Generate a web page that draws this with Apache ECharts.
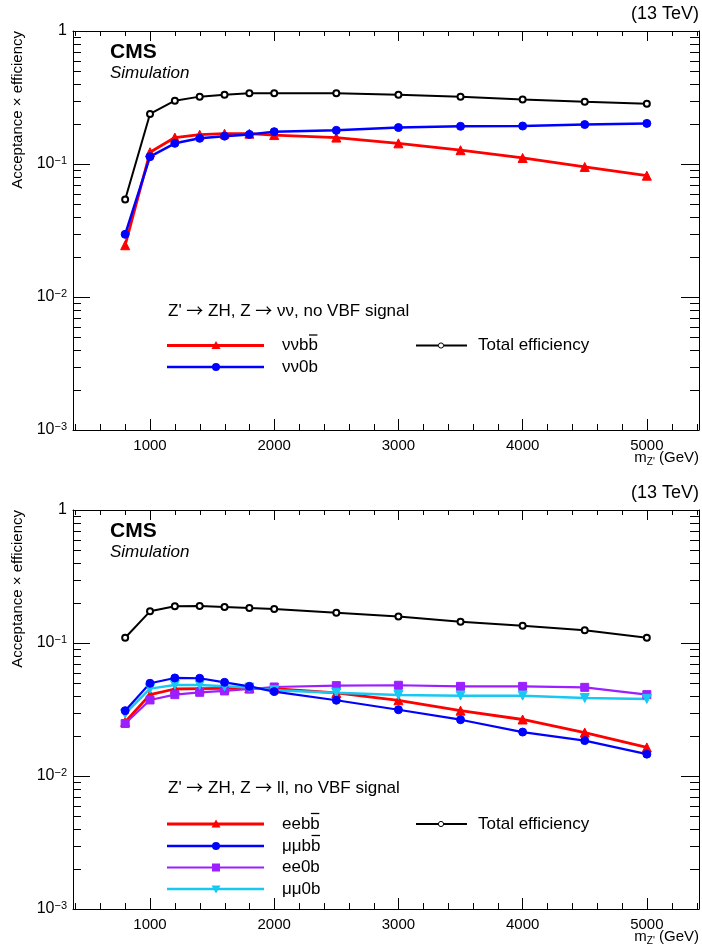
<!DOCTYPE html>
<html><head><meta charset="utf-8">
<script src="https://cdn.jsdelivr.net/npm/echarts@6/dist/echarts.min.js"></script>
<style>html,body{margin:0;padding:0;background:#fff}#c{width:702px;height:947px}</style>
</head><body><div id="c"></div>
<script>
// ---------------- data ----------------
const massPoints = [800, 1000, 1200, 1400, 1600, 1800, 2000, 2500, 3000, 3500, 4000, 4500, 5000];

// top panel: Z -> nu nu
const nunubb  = [0.0245, 0.1225, 0.158, 0.166, 0.169, 0.169, 0.165, 0.158, 0.143, 0.127, 0.111, 0.095, 0.0817];
const nunu0b  = [0.0296, 0.1135, 0.143, 0.156, 0.162, 0.167, 0.175, 0.179, 0.188, 0.192, 0.193, 0.198, 0.202];
const totNuNu = [0.054, 0.238, 0.299, 0.321, 0.332, 0.340, 0.341, 0.340, 0.332, 0.321, 0.306, 0.294, 0.284];

// bottom panel: Z -> l l
const eebb   = [0.0255, 0.0409, 0.0451, 0.0454, 0.0456, 0.0456, 0.0454, 0.0421, 0.0371, 0.0310, 0.0266, 0.0212, 0.0164];
const mumubb = [0.0310, 0.0498, 0.0546, 0.0543, 0.0506, 0.0472, 0.0431, 0.0371, 0.0315, 0.0265, 0.0214, 0.01845, 0.0146];
const ee0b   = [0.0248, 0.0373, 0.0409, 0.0426, 0.0436, 0.0451, 0.0467, 0.0478, 0.0481, 0.0472, 0.0472, 0.0464, 0.0409];
const mumu0b = [0.0294, 0.0454, 0.0484, 0.0484, 0.0472, 0.0462, 0.0441, 0.0423, 0.0407, 0.0402, 0.0402, 0.0386, 0.0380];
const totLL  = [0.1096, 0.173, 0.1886, 0.190, 0.1865, 0.183, 0.180, 0.169, 0.158, 0.1446, 0.135, 0.1245, 0.1096];

// axes
const xRange = [380, 5420];
const yRange = [0.001, 1];
const xMajorLabels = [1000, 2000, 3000, 4000, 5000];
const xMinorTicks = [400, 600, 800, 1200, 1400, 1600, 1800, 2200, 2400, 2600, 2800, 3200, 3400, 3600, 3800, 4200, 4400, 4600, 4800, 5200, 5400];
const yMinorTicks = [0.002,0.003,0.004,0.005,0.006,0.007,0.008,0.009,0.02,0.03,0.04,0.05,0.06,0.07,0.08,0.09,0.2,0.3,0.4,0.5,0.6,0.7,0.8,0.9];

// ---------------- style ----------------
const FONT = '"Liberation Sans", Arial, Helvetica, sans-serif';
const grids = [
  {left: 73, top: 31, width: 626, height: 399},
  {left: 73, top: 510, width: 626, height: 399}
];
const RED = '#ff0000', BLUE = '#0000ff', PURPLE = '#9b1fff', CYAN = '#16c8f2', BLACK = '#000000';

const xAxes = [], yAxes = [], series = [], graphics = [];

function pair(arr) { return massPoints.map((m, i) => [m, arr[i]]); }

grids.forEach((g, gi) => {
  xAxes.push({
    type: 'value', gridIndex: gi, min: xRange[0], max: xRange[1], position: 'bottom',
    axisLine: {show: true, onZero: false, lineStyle: {color: '#000', width: 1}},
    axisTick: {show: true, inside: true, length: 11, lineStyle: {color: '#000', width: 1}},
    axisLabel: {show: true, margin: 8, color: '#000', fontFamily: FONT, fontSize: 15,
      formatter: v => xMajorLabels.indexOf(Math.round(v)) >= 0 ? String(Math.round(v)) : ''},
    splitLine: {show: false}
  });
  xAxes.push({
    type: 'value', gridIndex: gi, min: xRange[0], max: xRange[1], position: 'top',
    axisLine: {show: true, onZero: false, lineStyle: {color: '#000', width: 1}},
    axisTick: {show: true, inside: true, length: 10, lineStyle: {color: '#000', width: 1}},
    axisLabel: {show: false}, splitLine: {show: false}
  });
  const yLab = v => {
    const e = Math.round(Math.log10(v));
    if (e === 0) return '{b|1}';
    return '{b|10}{s|\u2212' + (-e) + '}';
  };
  yAxes.push({
    type: 'log', logBase: 10, gridIndex: gi, min: yRange[0], max: yRange[1], position: 'left',
    axisLine: {show: true, onZero: false, lineStyle: {color: '#000', width: 1}},
    axisTick: {show: true, inside: true, length: 17, lineStyle: {color: '#000', width: 1}},
    axisLabel: {show: true, margin: 6, color: '#000', formatter: yLab,
      rich: {b: {fontFamily: FONT, fontSize: 16, color: '#000', lineHeight: 18},
             s: {fontFamily: FONT, fontSize: 11, color: '#000', verticalAlign: 'top', lineHeight: 12, padding: [0, 0, 6, 0]}}},
    splitLine: {show: false}
  });
  yAxes.push({
    type: 'log', logBase: 10, gridIndex: gi, min: yRange[0], max: yRange[1], position: 'right',
    axisLine: {show: true, onZero: false, lineStyle: {color: '#000', width: 1}},
    axisTick: {show: true, inside: true, length: 18, lineStyle: {color: '#000', width: 1}},
    axisLabel: {show: false}, splitLine: {show: false}
  });
  // minor ticks, placed through the axes' own scales
  const tickData = yMinorTicks.map(v => [xRange[0], v, 0]).concat(xMinorTicks.map(v => [v, 1, 1]));
  series.push({
    type: 'custom', xAxisIndex: 2 * gi, yAxisIndex: 2 * gi, silent: true, clip: false, z: 1,
    data: tickData,
    renderItem: (params, api) => {
      const cs = params.coordSys;
      const st = {stroke: '#000', lineWidth: 1};
      if (api.value(2) === 0) {
        const p = api.coord([xRange[0], api.value(1)]);
        const y = Math.round(p[1]) + 0.5;
        return {type: 'group', children: [
          {type: 'line', shape: {x1: cs.x, y1: y, x2: cs.x + 8, y2: y}, style: st},
          {type: 'line', shape: {x1: cs.x + cs.width - 9, y1: y, x2: cs.x + cs.width, y2: y}, style: st}
        ]};
      } else {
        const p = api.coord([api.value(0), 1]);
        const x = Math.round(p[0]) + 0.5;
        return {type: 'group', children: [
          {type: 'line', shape: {x1: x, y1: cs.y + cs.height - 6, x2: x, y2: cs.y + cs.height}, style: st},
          {type: 'line', shape: {x1: x, y1: cs.y, x2: x, y2: cs.y + 5}, style: st}
        ]};
      }
    }
  });
});

function lineSeries(gi, name, arr, color, symbol, size, lw, extra) {
  return Object.assign({
    type: 'line', name: name, xAxisIndex: 2 * gi, yAxisIndex: 2 * gi, data: pair(arr),
    symbol: symbol, symbolSize: size, showAllSymbol: true,
    lineStyle: {color: color, width: lw, type: 'solid'}, itemStyle: {color: color, borderColor: color},
    emphasis: {disabled: true}, animation: false, z: 3
  }, extra || {});
}

series.push(lineSeries(0, 'tot', totNuNu, BLACK, 'emptyCircle', 6, 2, {itemStyle: {color: BLACK, borderWidth: 1}}));
series.push(lineSeries(0, 'nunubb', nunubb, RED, 'triangle', 9, 2.8));
series.push(lineSeries(0, 'nunu0b', nunu0b, BLUE, 'circle', 8, 2.5));

series.push(lineSeries(1, 'tot', totLL, BLACK, 'emptyCircle', 6, 2, {itemStyle: {color: BLACK, borderWidth: 1}}));
series.push(lineSeries(1, 'eebb', eebb, RED, 'triangle', 9, 2.8));
series.push(lineSeries(1, 'ee0b', ee0b, PURPLE, 'rect', 8, 2.2));
series.push(lineSeries(1, 'mumu0b', mumu0b, CYAN, 'triangle', 9, 2.5, {symbolRotate: 180}));
series.push(lineSeries(1, 'mumubb', mumubb, BLUE, 'circle', 8, 2.2));

// ---------------- text & legends ----------------
const measureCtx = document.createElement('canvas').getContext('2d');
function textW(str, size) { measureCtx.font = size + 'px ' + FONT; return measureCtx.measureText(str).width; }

function txt(x, y, text, size, opts) {
  opts = opts || {};
  const st = {text: text, font: (opts.style || '') + ' ' + (opts.weight || 'normal') + ' ' + size + 'px ' + FONT,
    fill: '#000', align: opts.align || 'left', verticalAlign: opts.valign || 'middle',
    textAlign: opts.align || 'left', textVerticalAlign: opts.valign || 'middle'};
  if (opts.rich) st.rich = opts.rich;
  return {type: 'text', x: x, y: y, rotation: opts.rotation || 0, style: st, z: 10, silent: true};
}

function marker(kind, cx, cy, color) {
  if (kind === 'triangle') return {type: 'polygon', shape: {points: [[cx, cy - 4.5], [cx - 4.5, cy + 3.5], [cx + 4.5, cy + 3.5]]}, style: {fill: color}, z: 11};
  if (kind === 'triangleDown') return {type: 'polygon', shape: {points: [[cx, cy + 4.5], [cx - 4.5, cy - 3.5], [cx + 4.5, cy - 3.5]]}, style: {fill: color}, z: 11};
  if (kind === 'circle') return {type: 'circle', shape: {cx: cx, cy: cy, r: 4}, style: {fill: color}, z: 11};
  if (kind === 'rect') return {type: 'rect', shape: {x: cx - 4, y: cy - 4, width: 8, height: 8}, style: {fill: color}, z: 11};
  return {type: 'circle', shape: {cx: cx, cy: cy, r: 2.6}, style: {fill: '#fff', stroke: color, lineWidth: 1}, z: 11};
}

function legendEntry(x1, x2, xm, xt, y, color, lw, kind, label, bbar) {
  graphics.push({type: 'line', shape: {x1: x1, y1: y, x2: x2, y2: y}, style: {stroke: color, lineWidth: lw}, z: 10});
  graphics.push(marker(kind, xm, y, color));
  graphics.push(txt(xt, y, label, 17));
  if (bbar) {
    const w0 = textW(label.slice(0, -1), 17), w1 = textW(label, 17);
    graphics.push({type: 'line', shape: {x1: xt + w0 + 0.5, y1: y - 10.5, x2: xt + w1 - 0.5, y2: y - 10.5}, style: {stroke: '#000', lineWidth: 1.3}, z: 10});
  }
}

const headerRich = {t: {fontFamily: FONT, fontSize: 17, color: '#000'},
                    a: {fontFamily: '"Noto Sans CJK SC", "DejaVu Sans", sans-serif', fontSize: 17, color: '#000'}};

const yTitle = 'Acceptance \u00d7 efficiency';
const xTitleRich = {n: {fontFamily: FONT, fontSize: 15, color: '#000', lineHeight: 18},
                    s: {fontFamily: FONT, fontSize: 10, color: '#000', verticalAlign: 'bottom', lineHeight: 18, padding: [6, 0, 0, 0]}};

grids.forEach((g, gi) => {
  const top = g.top, bottom = g.top + g.height, right = g.left + g.width;
  graphics.push(txt(right, top - 17, '(13 TeV)', 18, {align: 'right'}));
  graphics.push(txt(110, top + 21, 'CMS', 21, {weight: 'bold'}));
  graphics.push(txt(110, top + 42, 'Simulation', 17, {style: 'italic'}));
  graphics.push(txt(18, top, yTitle, 15, {align: 'right', rotation: Math.PI / 2}));
  graphics.push(txt(right, bottom + 28, "{n|m}{s|Z'}{n| (GeV)}", 15, {align: 'right', rich: xTitleRich}));
});

// top legend
graphics.push(txt(168, 311, "{t|Z' }{a|\u2192}{t| ZH, Z }{a|\u2192}{t| \u03bd\u03bd, no VBF signal}", 17, {rich: headerRich}));
legendEntry(167, 264, 216, 282, 345.5, RED, 2.8, 'triangle', '\u03bd\u03bdbb', true);
legendEntry(167, 264, 216, 282, 367, BLUE, 2.5, 'circle', '\u03bd\u03bd0b', false);
legendEntry(416, 467, 441, 478, 345.5, BLACK, 2, 'empty', 'Total efficiency', false);

// bottom legend
graphics.push(txt(168, 788, "{t|Z' }{a|\u2192}{t| ZH, Z }{a|\u2192}{t| ll, no VBF signal}", 17, {rich: headerRich}));
legendEntry(167, 264, 216, 282, 824, RED, 2.8, 'triangle', 'eebb', true);
legendEntry(167, 264, 216, 282, 846, BLUE, 2.5, 'circle', '\u03bc\u03bcbb', true);
legendEntry(167, 264, 216, 282, 867.5, PURPLE, 2.2, 'rect', 'ee0b', false);
legendEntry(167, 264, 216, 282, 889, CYAN, 2.5, 'triangleDown', '\u03bc\u03bc0b', false);
legendEntry(416, 467, 441, 478, 824, BLACK, 2, 'empty', 'Total efficiency', false);

const chart = echarts.init(document.getElementById('c'), null, {renderer: 'canvas'});
chart.setOption({
  animation: false,
  backgroundColor: '#fff',
  grid: grids.map(g => Object.assign({containLabel: false}, g)),
  xAxis: xAxes,
  yAxis: yAxes,
  series: series,
  graphic: {elements: graphics}
});
</script>
</body></html>
